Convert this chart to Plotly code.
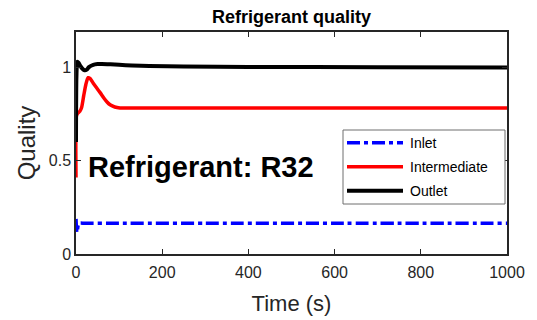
import plotly.graph_objects as go

# ---- data ----
time_inlet = [0, 1, 2, 3, 5, 8, 20, 100, 300, 600, 1000]
q_inlet = [0.188, 0.14, 0.115, 0.12, 0.155, 0.165, 0.165, 0.165, 0.165, 0.165, 0.165]

time_inter = [0, 1, 4, 9, 13, 18, 23, 28, 33, 40, 48, 56, 65, 72, 79, 90, 102, 130, 200, 400, 700, 1000]
q_inter = [0.41, 0.74, 0.755, 0.765, 0.785, 0.85, 0.91, 0.945, 0.94, 0.915, 0.89, 0.865,
           0.835, 0.815, 0.80, 0.788, 0.783, 0.782, 0.782, 0.782, 0.782, 0.782]

time_outlet = [0, 1, 3, 6, 10, 15, 20, 25, 30, 40, 50, 60, 80, 100, 130, 170, 250, 400, 700, 1000]
q_outlet = [0.60, 0.95, 1.03, 1.025, 1.008, 0.993, 0.985, 0.988, 1.002, 1.014, 1.018, 1.019,
            1.017, 1.014, 1.011, 1.008, 1.005, 1.003, 1.001, 1.0]

series_names = ["Inlet", "Intermediate", "Outlet"]
series_colors = ["#0000ff", "#ff0000", "#000000"]
series_dash = ["13px,4px,4px,4px", "solid", "solid"]
series_width = [3.5, 3.5, 4]

x_ticks = [0, 200, 400, 600, 800, 1000]
y_ticks = [0, 0.5, 1]
y_tick_text = ["0", "0.5", "1"]

FONT = "Liberation Sans, Arial, sans-serif"
AX = "#262626"

fig = go.Figure()
for t, q, name, c, d, w in zip([time_inlet, time_inter, time_outlet],
                               [q_inlet, q_inter, q_outlet],
                               series_names, series_colors, series_dash, series_width):
    fig.add_trace(go.Scatter(x=t, y=q, mode="lines", name=name, showlegend=False,
                             line=dict(color=c, width=w, dash=d, shape="spline", smoothing=0.6)))

# page has an 8px body margin; figure coordinates are page coordinates minus OFF
OFF = 8
PW, PH = 537, 320
W, H = PW - OFF, PH - OFF
# plot area in page pixels: x 76..507, y 32..254
L, T = 76 - OFF, 32 - OFF
R = W - (507 - OFF)
B = H - (254 - OFF)
pw, ph = W - L - R, H - T - B

def px(x):  # page x -> paper
    return (x - OFF - L) / pw
def py(y):  # page y -> paper
    return (H - B - (y - OFF)) / ph

shapes = []
annotations = []
# legend box
shapes.append(dict(type="rect", xref="paper", yref="paper",
                   x0=px(343), x1=px(505), y0=py(204), y1=py(130),
                   line=dict(color="#6e6e6e", width=1), fillcolor="white", layer="above"))
leg_y = [142.7, 166.7, 190.7]
for name, c, d, w, yy in zip(series_names, series_colors, series_dash, series_width, leg_y):
    shapes.append(dict(type="line", xref="paper", yref="paper",
                       x0=px(347), x1=px(403), y0=py(yy), y1=py(yy),
                       line=dict(color=c, width=w, dash=d), layer="above"))
    annotations.append(dict(text=name, xref="paper", yref="paper", x=px(408), y=py(yy),
                            xanchor="left", yanchor="middle", showarrow=False,
                            font=dict(family=FONT, size=14, color="#000000")))

annotations.append(dict(text="<b>Refrigerant: R32</b>", xref="paper", yref="paper",
                        x=px(86), y=py(167), xanchor="left", yanchor="middle", showarrow=False,
                        font=dict(family=FONT, size=29, color="#000000")))

fig.update_layout(
    width=W, height=H,
    margin=dict(l=L, r=R, t=T, b=B),
    paper_bgcolor="white", plot_bgcolor="white",
    font=dict(family=FONT, color=AX),
    title=dict(text="<b>Refrigerant quality</b>", x=(L + pw / 2) / W, xanchor="center",
               y=1.0, yanchor="top", yref="container", pad=dict(t=2), automargin=False,
               font=dict(family=FONT, size=18, color="#000000")),
    shapes=shapes, annotations=annotations,
    xaxis=dict(range=[0, 1000], tickvals=x_ticks, ticks="inside", ticklen=5, tickwidth=1,
               tickcolor=AX, showline=True, linecolor=AX, linewidth=1.5, mirror="ticks",
               showgrid=False, zeroline=False, tickfont=dict(size=16, color=AX),
               ticklabelstandoff=3, automargin=False,
               title=dict(text="Time (s)", font=dict(size=22, color=AX), standoff=16)),
    yaxis=dict(range=[0, 1.19], tickvals=y_ticks, ticktext=y_tick_text, ticks="inside",
               ticklen=5, tickwidth=1, tickcolor=AX, showline=True, linecolor=AX,
               linewidth=1.5, mirror="ticks", showgrid=False, zeroline=False,
               tickfont=dict(size=16, color=AX), automargin=False,
               title=dict(text="Quality", font=dict(size=24, color=AX), standoff=6)),
)

fig.write_html("out.html")
